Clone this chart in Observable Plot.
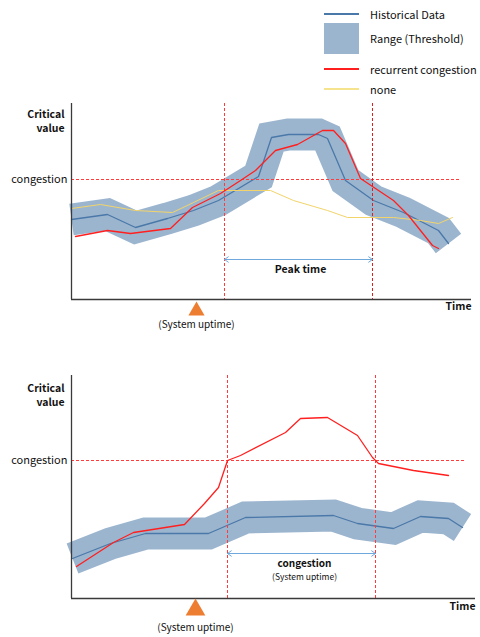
<!DOCTYPE html>
<html><head><meta charset="utf-8">
<script src="https://cdn.jsdelivr.net/npm/d3@7"></script>
<script src="https://cdn.jsdelivr.net/npm/@observablehq/plot@0.6"></script>
<style>
body{margin:0;background:#fff;font-family:"Noto Sans CJK KR","Noto Sans",sans-serif;}
#wrap{position:relative;width:480px;height:637px;overflow:hidden;background:#fff;}
#legend{position:absolute;left:0;top:0;width:480px;height:100px;}
.lt{position:absolute;font-size:11px;color:#111;line-height:14px;white-space:nowrap;}
.ls{position:absolute;}
#top{position:absolute;left:0;top:95px;}
#bot{position:absolute;left:0;top:340px;}
</style></head>
<body><div id="wrap"><div id="legend"></div><div id="top"></div><div id="bot"></div></div>
<script>
// ---------- data ----------
// top panel (time units, value units)
const topHistT = [0,36,64,96,122,147,187,200,217,247,256,274,302,332,367,377];
const topHistV = [80,85,72,81,89,99,123,162,165,165,161,119,99,87,69,56];
const topRedT  = [4,36,59,99,121,149,169,184,204,226,251,262,274,289,301,322,337,361,367];
const topRedV  = [63,69,66,71,92,106,119,129,149,155,169,169,156,121,113,99,84,54,51];
const topNoneT = [0,29,64,101,122,147,199,222,256,276,322,349,367,381];
const topNoneV = [91,95,89,87,97,109,109,99,89,82,82,79,76,82];
const topCongestion = 120;
const topWindow = [153, 301];
const topUptime = 125;
// bottom panel
const botHistT = [1,39,74,137,174,262,286,322,349,377,391];
const botHistV = [40,55,65,65,81,83,75,70,82,80,71];
const botRedT  = [5,42,62,113,133,147,156,169,214,229,256,286,301,307,342,377];
const botRedV  = [32,56,66,74,95,111,138,143,166,180,181,163,141,135,128,123];
const botCongestion = 138;
const botWindow = [156, 304];
const botUptime = 124;
// legend
const legendLabels = ["Historical Data","Range (Threshold)","recurrent congestion","none"];

// ---------- style ----------
const FONT = '"Noto Sans CJK KR","Noto Sans",sans-serif';
const HIST = "#4a78a8", BAND = "#9cb5cf", RED = "#ff1f1f", NONE = "#f2d46a";
const DASH = "#ff3b3b", DASH2 = "#d92020", ARROW = "#6fa8dc", ORANGE = "#ed7d31", AXIS = "#3a3a3a";

const zip = (T, V) => T.map((t, i) => ({t, v: V[i]}));
const topHist = zip(topHistT, topHistV), topRed = zip(topRedT, topRedV), topNone = zip(topNoneT, topNoneV);
const botHist = zip(botHistT, botHistV), botRed = zip(botRedT, botRedV);

// ---------- legend ----------
const legendKinds = [{k:"line",c:HIST},{k:"rect",c:BAND},{k:"line",c:RED},{k:"line",c:"#f5e38e"}];
const legendY = [14, 38, 69, 89];
const leg = document.getElementById("legend");
legendLabels.forEach((lab, i) => {
  const s = document.createElement("div");
  s.className = "ls";
  const kd = legendKinds[i];
  if (kd.k === "line") {
    Object.assign(s.style, {left:"324px", width:"35px", top:(legendY[i]-0.75)+"px", height:"1.5px", background:kd.c});
  } else {
    Object.assign(s.style, {left:"324px", width:"35px", top:"23px", height:"31px", background:kd.c});
  }
  leg.appendChild(s);
  const t = document.createElement("div");
  t.className = "lt";
  t.textContent = lab;
  Object.assign(t.style, {left:"370px", top:(legendY[i]-7)+"px"});
  leg.appendChild(t);
});

// ---------- panels ----------
function panel(o) {
  const mid = (o.win[0] + o.win[1]) / 2;
  return Plot.plot({
    width: 480, height: o.height,
    marginLeft: 71, marginRight: o.mr, marginTop: o.mt, marginBottom: o.mb,
    x: {domain: [0, o.xMax], axis: null},
    y: {domain: [0, o.yMax], axis: null},
    style: {fontFamily: FONT, background: "transparent", color: "#111"},
    marks: [
      Plot.line(o.hist, {x: "t", y: "v", stroke: BAND, strokeWidth: 32, strokeLinecap: "butt", strokeLinejoin: "miter", strokeMiterlimit: 4}),
      Plot.line(o.hist, {x: "t", y: "v", stroke: HIST, strokeWidth: 1.3}),
      o.none ? Plot.line(o.none, {x: "t", y: "v", stroke: NONE, strokeWidth: 1}) : null,
      Plot.ruleY([o.cong], {y: d => d, x1: 0, x2: o.congEnd, stroke: DASH, strokeWidth: 1, strokeDasharray: "3,2"}),
      Plot.ruleX([o.win[0]], {x: d => d, stroke: DASH, strokeWidth: 1, strokeDasharray: "3,2"}),
      Plot.ruleX([o.win[1]], {x: d => d, stroke: o.win2c, strokeWidth: 1, strokeDasharray: "3,2"}),
      Plot.line(o.red, {x: "t", y: "v", stroke: RED, strokeWidth: 1.3}),
      // double arrow (two halves from the middle)
      Plot.arrow([o.win[0], o.win[1]], {x1: () => mid, x2: d => d, y1: () => o.arrowV, y2: () => o.arrowV, stroke: ARROW, strokeWidth: 1, headLength: 7, headAngle: 70}),
      ...o.midTexts.map(m => Plot.text([m.text], {x: () => mid + o.textShift, y: () => m.v, text: d => d, fontSize: m.fs, fontWeight: m.fw, fill: "#111"})),
      // axes
      Plot.ruleX([0], {stroke: AXIS, strokeWidth: 1.3}),
      Plot.ruleY([0], {stroke: AXIS, strokeWidth: 1.3}),
      Plot.text(["Critical\nvalue"], {frameAnchor: "top-left", textAnchor: "end", dx: -7, dy: o.cvDy, lineHeight: o.cvLH, fontSize: 10.5, fontWeight: "bold", fill: "#111"}),
      Plot.text([o.cong], {y: d => d, frameAnchor: "left", textAnchor: "end", dx: -4, text: () => "congestion", fontSize: 11, fill: "#111"}),
      Plot.text(["Time"], {frameAnchor: "bottom-right", textAnchor: "end", dy: o.timeDy, fontSize: 10.5, fontWeight: "bold", fill: "#111"}),
      Plot.dot([o.uptime], {x: d => d, y: () => 0, symbol: "triangle", r: o.triR, fill: ORANGE, dy: 11.3}),
      Plot.text([o.uptime], {x: d => d, y: () => 0, text: () => "(System uptime)", dy: o.upDy, fontSize: 10, fill: "#111"})
    ]
  });
}

document.getElementById("top").appendChild(panel({
  height: 240, mt: 8, mb: 36, mr: 9, xMax: 400, yMax: 196,
  hist: topHist, red: topRed, none: topNone,
  cong: topCongestion, congEnd: 389, win: topWindow, win2c: DASH2,
  arrowV: 40, textShift: 2,
  midTexts: [{text: "Peak time", v: 30, fs: 10.5, fw: "bold"}],
  cvDy: 5, cvLH: 1.32, timeDy: 10, uptime: topUptime, triR: 6, upDy: 25
}));

document.getElementById("bot").appendChild(panel({
  height: 297, mt: 35, mb: 39, mr: 5, xMax: 404, yMax: 223,
  hist: botHist, red: botRed, none: null,
  cong: botCongestion, congEnd: 394, win: botWindow, win2c: DASH,
  arrowV: 45, textShift: 3,
  midTexts: [{text: "congestion", v: 35, fs: 10, fw: "bold"}, {text: "(System uptime)", v: 21, fs: 8.5, fw: "normal"}],
  cvDy: 5.6, cvLH: 1.4, timeDy: 11, uptime: botUptime, triR: 7.3, upDy: 29
}));
</script></body></html>
